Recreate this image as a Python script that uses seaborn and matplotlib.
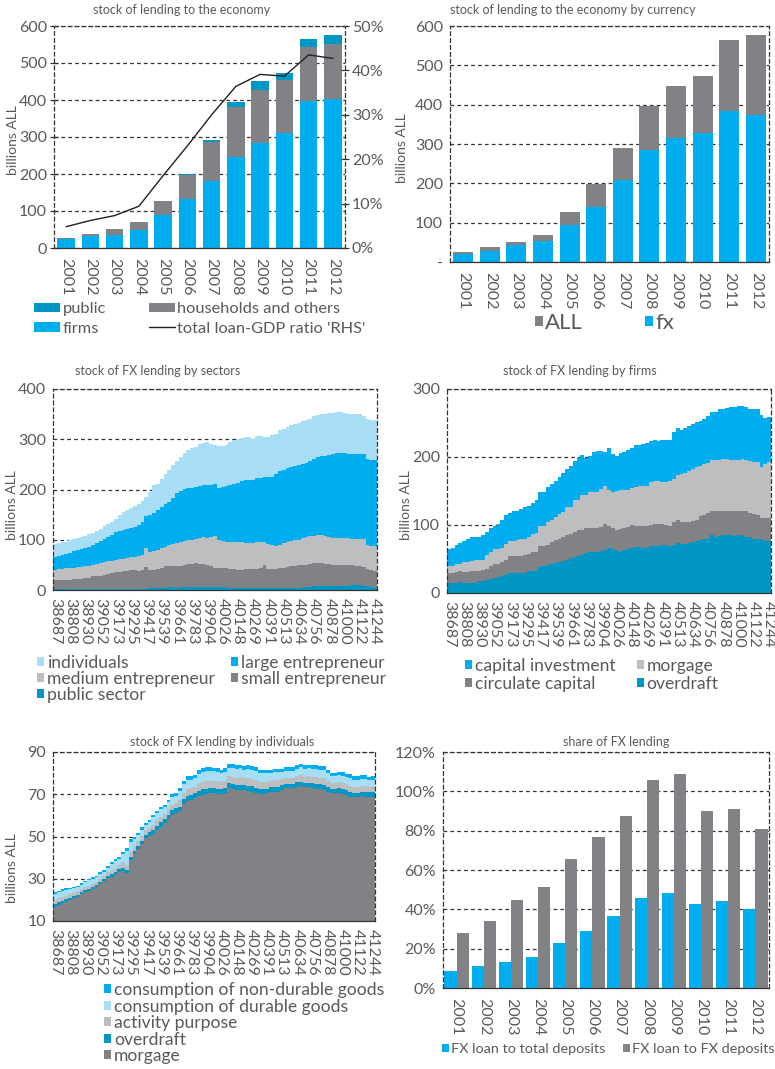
import numpy as np
import pandas as pd
import seaborn as sns
import matplotlib
matplotlib.use("Agg")
import matplotlib.pyplot as plt
from matplotlib.patches import Patch
from matplotlib.lines import Line2D

CYAN = "#00aeef"
GRAY = "#808285"
TEAL = "#0097c5"
LBLUE = "#a8ddf6"
LGRAY = "#bcbec0"
TXT = "#58595b"
DASH = "#333333"

years = [str(y) for y in range(2001, 2013)]

# stock of lending to the economy (billions ALL) and loan/GDP ratio (%)
firms = [24, 31.5, 36, 48, 88, 132, 182, 246, 284, 310, 396, 402]
households = [2, 6.5, 15, 21, 38, 66, 105, 135, 144, 145, 147, 148]
public = [2, 1, 1, 2, 2, 2, 6, 14, 22, 19, 23, 27]
loan_gdp = [4.8, 6.2, 7.3, 9.4, 16.3, 23.0, 30.0, 36.4, 39.1, 38.7, 43.5, 42.7]

# by currency
fx_loans = [21, 29, 42, 54, 95, 141, 209, 286, 314, 329, 383, 373]
all_loans = [5, 10, 10, 15, 33, 57, 82, 110, 134, 145, 182, 205]

# share of FX lending (%)
fx_to_total_dep = [8.8, 11.4, 13.4, 15.9, 23.0, 29.2, 36.8, 45.9, 48.5, 42.9, 44.4, 40.3]
fx_to_fx_dep = [28.1, 34.2, 44.9, 51.5, 65.8, 76.9, 87.6, 105.9, 109.0, 90.2, 91.2, 81.0]

month_labels = ["38687", "38808", "38930", "39052", "39173", "39295", "39417", "39539",
                "39661", "39783", "39904", "40026", "40148", "40269", "40391", "40513",
                "40634", "40756", "40878", "41000", "41122", "41244"]

# FX lending by sectors, monthly
sec_public = [1,1,1,1,1,1,1,1,1,1, 1,1,1,1,1,1,1,1,1,1, 1,1,1,2,2,3,3,3,4,4,
              5,5,4,5,5,5,6,6,6,6, 6,5,5,5,5,5,4,4,4,4, 4,4,4,4,4,4,4,4,3,3,
              3,3,3,4,4,5,6,6,7,7, 7,8,8,8,8,8,8,8,9,9, 9,8,7,5,4]
sec_small = [19,19,19,19,19,20,20,21,22,23, 26,26,27,28,31,32,34,35,36,37,
             39,38,37,38,43,37,37,38,40,43, 42,43,44,43,44,46,46,48,46,45,
             44,42,38,38,38,38,38,37,36,36, 37,37,38,38,39,45,38,37,38,40,
             40,42,44,44,45,45,44,45,46,47, 46,44,43,42,42,42,42,41,40,39,
             38,37,35,34,34]
sec_medium = [20,21,22,23,23,23,24,24,25,24, 23,24,25,26,25,25,25,25,25,26,
              25,27,30,30,38,36,38,39,39,39, 43,43,45,47,49,48,48,47,52,54,
              54,59,65,57,54,52,53,55,56,55, 52,52,52,53,53,47,49,48,47,47,
              50,50,50,51,51,53,56,56,55,55, 57,56,55,54,53,53,53,54,53,54,
              54,56,48,49,50]
sec_large = [26,27,28,29,31,33,35,35,35,38, 40,43,45,47,49,52,56,57,58,58,
             59,60,62,66,65,74,75,80,83,85, 86,93,100,103,103,104,103,104,103,103,
             105,102,103,103,108,111,113,115,117,122, 126,125,124,128,127,128,133,135,142,147,
             146,147,148,148,149,148,147,149,153,156, 156,159,163,166,169,170,170,168,168,168,
             170,170,170,170,170]
sec_indiv = [26,25,25,24,25,25,24,25,25,26, 24,24,24,26,26,26,26,32,36,38,
             40,42,42,42,38,46,55,50,54,59, 62,64,63,66,71,75,79,79,83,84,
             85,82,78,83,81,82,86,87,87,85, 85,86,82,84,83,81,81,84,80,81,
             82,83,83,83,83,85,85,85,85,84, 84,84,83,83,82,81,79,80,80,80,
             80,75,81,80,80]

# FX lending by firms, monthly
firm_overdraft = [15,15,15,16,15,14,14,14,17,18, 19,21,22,24,25,27,29,30,30,30,
                  30,32,33,33,38,40,41,43,44,45, 47,49,51,53,54,56,59,60,61,61,
                  62,63,66,64,62,61,63,65,66,68, 67,66,66,69,69,69,70,70,69,71,
                  73,72,72,74,75,76,78,79,80,85, 83,84,85,86,86,84,85,85,83,82,
                  80,80,80,76,76]
firm_circulate = [15,15,16,16,16,17,18,18,16,16, 16,19,20,18,20,22,25,24,24,24,
                  26,26,28,28,31,29,30,32,34,35, 36,37,36,36,38,37,37,36,35,35,
                  35,39,32,32,31,33,32,32,34,31, 31,32,32,31,32,32,32,30,30,33,
                  35,33,33,31,31,32,35,36,38,35, 38,37,36,34,34,36,36,36,37,36,
                  36,35,30,35,35]
firm_morgage = [10,10,11,11,14,15,15,16,15,15, 21,20,22,23,21,23,22,23,24,25,
                23,25,26,27,29,29,33,33,34,36, 36,40,39,48,45,51,48,52,53,53,
                56,56,54,53,57,57,56,55,54,57, 59,59,60,63,63,63,61,63,66,64,
                65,70,72,74,76,77,74,74,73,76, 74,75,76,77,76,76,75,76,76,76,
                76,77,75,79,81]
firm_capital = [25,26,28,30,32,33,35,35,35,36, 34,35,34,37,42,42,42,43,43,45,
                47,45,45,49,51,51,52,53,53,54, 57,57,61,57,62,59,54,54,58,60,
                56,49,61,56,52,55,57,59,59,62, 61,62,62,61,61,60,62,62,60,69,
                69,65,66,67,66,66,66,67,69,70, 71,74,74,75,77,78,79,78,77,77,
                79,79,77,68,67]

# FX lending by individuals, monthly
ind_morgage = [16.8,17.6,18.4,19.2,20.0,20.8,21.5,22.8,23.5,24.2,
               25.0,26.0,27.4,28.7,30.2,31.0,31.8,33.1,33.9,32.9,
               38.9,41.6,44.0,46.4,49.2,50.2,51.1,53.2,54.7,56.3,
               58.4,60.3,61.2,61.9,65.3,66.6,67.4,68.2,69.0,69.8,
               70.1,70.4,70.4,70.2,70.0,70.6,72.9,72.3,72.1,72.1,
               72.0,71.7,71.3,70.6,70.2,70.2,70.4,71.0,71.3,71.3,
               72.1,72.9,72.9,72.9,73.5,73.7,73.2,73.2,72.8,72.5,
               72.5,72.0,71.3,70.6,70.6,70.6,70.2,69.8,68.5,68.5,
               68.5,69.0,68.7,68.7,68.5]
ind_overdraft = [1.2,1.2,1.2,1.1,1.1,1.0,1.0,1.0,1.0,1.0, 1.0,1.0,1.1,1.1,1.2,1.3,1.3,1.3,1.4,1.4,
                 1.6,1.6,1.6,1.7,1.7,1.8,1.9,1.9,2.0,1.9, 2.0,2.1,2.1,2.3,2.3,2.4,2.3,2.3,2.5,2.5,
                 2.6,2.5,2.5,2.5,2.4,2.4,2.4,2.4,2.4,2.4, 2.3,2.4,2.4,2.4,2.3,2.3,2.3,2.2,2.2,2.2,
                 2.1,2.1,2.1,2.1,2.1,2.2,2.2,2.2,2.3,2.3, 2.2,2.3,2.2,2.1,2.1,2.2,2.2,2.2,2.4,2.3,
                 2.3,2.3,2.4,2.3,2.4]
ind_activity = [2.0,1.9,1.8,1.7,1.6,1.5,1.5,1.4,1.5,1.6, 1.5,1.5,1.5,1.5,1.6,2.0,2.1,2.0,2.4,2.2,
                2.8,2.3,2.1,2.2,2.0,2.1,2.6,2.5,2.7,2.4, 2.5,2.7,2.6,3.1,3.2,3.4,3.2,3.1,3.6,3.6,
                3.7,3.6,3.5,3.5,3.4,3.4,3.3,3.5,3.4,3.5, 3.3,3.5,3.5,3.6,3.3,3.3,3.2,3.1,3.1,3.1,
                2.9,2.8,2.8,2.8,2.9,3.0,3.0,3.1,3.1,3.2, 3.1,3.2,2.9,2.7,2.7,2.8,2.9,2.8,3.1,2.8,
                2.8,2.7,2.8,2.6,2.7]
ind_durable = [3.0,2.9,2.8,2.6,2.4,2.2,2.1,2.0,2.3,2.4, 2.3,2.2,2.2,2.1,2.3,2.8,3.0,2.8,3.8,6.8,
               4.2,3.2,2.9,3.0,2.7,2.8,3.5,3.4,3.5,3.2, 3.3,3.6,3.4,4.1,4.1,4.4,4.0,4.0,4.6,4.6,
               4.7,4.6,4.4,4.4,4.1,4.2,4.0,4.3,4.1,4.2, 3.9,4.3,4.2,4.3,4.1,4.1,4.0,3.7,3.9,3.9,
               3.5,3.4,3.4,3.4,3.6,3.8,3.7,3.8,3.8,4.0, 3.7,4.0,3.6,3.1,3.1,3.3,3.5,3.2,3.8,3.3,
               3.3,3.3,3.3,3.1,3.3]
ind_nondurable = [0.9,0.8,0.8,0.8,0.7,0.7,0.7,0.6,0.7,0.8, 0.8,0.8,0.8,0.8,0.9,1.0,1.0,1.0,1.1,1.2,
                  1.2,1.1,1.0,1.0,0.9,1.0,1.2,1.2,1.3,1.2, 1.2,1.3,1.3,1.5,1.6,1.7,1.6,1.6,1.8,1.9,
                  1.9,1.9,1.8,1.8,1.7,1.8,1.7,1.8,1.7,1.8, 1.7,1.8,1.8,1.8,1.7,1.7,1.7,1.6,1.6,1.6,
                  1.5,1.5,1.5,1.5,1.6,1.6,1.6,1.7,1.7,1.7, 1.7,1.7,1.6,1.5,1.5,1.6,1.7,1.6,1.8,1.6,
                  1.6,1.6,1.7,1.6,1.9]

sns.set_style("white")
plt.rcParams["font.family"] = ["Lato", "DejaVu Sans"]
plt.rcParams["text.color"] = TXT
plt.rcParams["xtick.color"] = DASH
plt.rcParams["ytick.color"] = DASH
plt.rcParams["xtick.labelcolor"] = TXT
plt.rcParams["ytick.labelcolor"] = TXT

W, H = 775, 1069
fig = plt.figure(figsize=(W / 100, H / 100), dpi=100)


def rect(left, top, right, bottom):
    return [left / W, 1 - bottom / H, (right - left) / W, (bottom - top) / H]


def ftext(x, y, s, **kw):
    fig.text(x / W, 1 - y / H, s, **kw)


def frame(ax, sides=("left", "top", "right")):
    for side in sides:
        ax.spines[side].set_linestyle((0, (3, 2.5)))
        ax.spines[side].set_color(DASH)
        ax.spines[side].set_linewidth(0.9)
    ax.spines["bottom"].set_color(DASH)
    ax.spines["bottom"].set_linewidth(0.9)
    ax.yaxis.grid(True, linestyle=(0, (3, 2.5)), color=DASH, linewidth=0.9)
    ax.xaxis.grid(False)
    ax.set_axisbelow(True)
    ax.tick_params(axis="y", direction="inout", length=6, width=0.9, labelsize=11.5, pad=2)
    ax.set_xlabel("")
    ax.set_ylabel("")


def stacked(ax, layers, colors, width):
    # overlay cumulative totals, top layer first
    x = np.arange(len(layers[0]))
    cum = np.cumsum(np.array(layers, dtype=float), axis=0)
    monthly = width >= 1
    for top, c in zip(cum[::-1], colors[::-1]):
        sns.barplot(x=x, y=top, color=c, saturation=1, width=width, errorbar=None,
                    linewidth=0, antialiased=not monthly, ax=ax)


def year_axis(ax):
    ax.set_xlim(-0.5, 11.5)
    ax.set_xticks(range(12))
    ax.set_xticklabels(years, rotation=270, fontsize=11.5)
    ax.set_xticks(np.arange(-0.5, 12, 1), minor=True)
    ax.tick_params(axis="x", which="major", length=0, pad=7)
    ax.tick_params(axis="x", which="minor", length=5, width=0.9, direction="inout")


def month_axis(ax, bottom, top, step):
    ax.set_xlim(-0.5, 84.5)
    ax.set_ylim(bottom, top)
    ax.set_yticks(np.arange(bottom, top + 1, step))
    ax.set_xticks(range(0, 85, 4))
    ax.set_xticklabels(month_labels, rotation=270, fontsize=11.5)
    ax.set_xticks(range(85), minor=True)
    ax.tick_params(axis="x", which="both", length=5, width=0.8, direction="inout", pad=3)


def legend(handles, labels, x, y, ncol, fontsize, **kw):
    opts = dict(loc="upper left", bbox_to_anchor=(x / W, 1 - y / H), ncol=ncol,
                frameon=False, fontsize=fontsize, borderpad=0, borderaxespad=0,
                handletextpad=0.15, labelspacing=0.05, labelcolor=TXT)
    opts.update(kw)
    fig.legend(handles, labels, **opts)


def sq(c):
    return Patch(facecolor=c, edgecolor="none")


# ---- panel 1: stock of lending to the economy
ax1 = fig.add_axes(rect(54, 26, 345, 248))
stacked(ax1, [firms, households, public], [CYAN, GRAY, TEAL], 0.72)
frame(ax1)
ax1.set_ylim(0, 600)
ax1.set_yticks(range(0, 601, 100))
year_axis(ax1)
ax1b = ax1.twinx()
ax1b.plot(range(12), loan_gdp, color="#231f20", linewidth=1)
ax1b.set_ylim(0, 50)
ax1b.set_yticks(range(0, 51, 10))
ax1b.set_yticklabels([f"{v}%" for v in range(0, 51, 10)])
ax1b.tick_params(axis="y", direction="inout", length=6, width=0.9, labelsize=11.5, pad=2)
for s in ax1b.spines.values():
    s.set_visible(False)
ax1b.set_xlim(-0.5, 11.5)
ftext(182, 10, "stock of lending to the economy", fontsize=9, ha="center", va="center")
ftext(13, 140, "billions ALL", fontsize=10, rotation=90, ha="center", va="center")
legend([sq(TEAL), sq(CYAN), sq(GRAY), Line2D([], [], color="#231f20", lw=1)],
       ["public", "firms", "households and others", "total loan-GDP ratio 'RHS'"],
       34, 302, 2, 11.8, handlelength=1.6, handleheight=0.5, columnspacing=2.6,
       labelspacing=0.35)

# ---- panel 2: by currency
ax2 = fig.add_axes(rect(450, 26, 769, 262))
stacked(ax2, [fx_loans, all_loans], [CYAN, GRAY], 0.75)
frame(ax2)
ax2.set_ylim(0, 600)
ax2.set_yticks(range(0, 601, 100))
ax2.set_yticklabels(["-", "100", "200", "300", "400", "500", "600"])
year_axis(ax2)
ftext(573, 10, "stock of lending to the economy by currency", fontsize=9, ha="center", va="center")
ftext(402, 148, "billions ALL", fontsize=10, rotation=90, ha="center", va="center")
legend([sq(GRAY), sq(CYAN)], ["ALL", "fx"], 535, 313, 2, 16,
       handlelength=0.35, handleheight=0.35, handletextpad=0.1, columnspacing=2.8)

# ---- panel 3: FX lending by sectors
ax3 = fig.add_axes(rect(53, 389, 377, 590))
stacked(ax3, [sec_public, sec_small, sec_medium, sec_large, sec_indiv],
        [TEAL, GRAY, LGRAY, CYAN, LBLUE], 1.0)
frame(ax3)
month_axis(ax3, 0, 400, 100)
ftext(158, 371, "stock of FX lending by sectors", fontsize=9, ha="center", va="center")
ftext(12, 505, "billions ALL", fontsize=10, rotation=90, ha="center", va="center")
legend([sq(LBLUE), sq(LGRAY), sq(TEAL), sq(CYAN), sq(GRAY)],
       ["individuals", "medium entrepreneur", "public sector", "large entrepreneur", "small entrepreneur"],
       37, 655, 2, 12.6, handlelength=0.42, handleheight=0.42, columnspacing=0.9,
       labelspacing=0.0)

# ---- panel 4: FX lending by firms
ax4 = fig.add_axes(rect(447, 389, 771, 593))
stacked(ax4, [firm_overdraft, firm_circulate, firm_morgage, firm_capital],
        [TEAL, GRAY, LGRAY, CYAN], 1.0)
frame(ax4)
month_axis(ax4, 0, 300, 100)
ftext(580, 371, "stock of FX lending by firms", fontsize=9, ha="center", va="center")
ftext(406, 505, "billions ALL", fontsize=10, rotation=90, ha="center", va="center")
legend([sq(CYAN), sq(GRAY), sq(LGRAY), sq(TEAL)],
       ["capital investment", "circulate capital", "morgage", "overdraft"],
       465, 658, 2, 12.6, handlelength=0.42, handleheight=0.42, columnspacing=1.2,
       labelspacing=0.12)

# ---- panel 5: FX lending by individuals
ax5 = fig.add_axes(rect(53, 752, 375, 921))
stacked(ax5, [ind_morgage, ind_overdraft, ind_activity, ind_durable, ind_nondurable],
        [GRAY, TEAL, LGRAY, LBLUE, CYAN], 1.0)
frame(ax5)
month_axis(ax5, 10, 90, 20)
ftext(222, 742, "stock of FX lending by individuals", fontsize=9, ha="center", va="center")
ftext(12, 868, "billions ALL", fontsize=10, rotation=90, ha="center", va="center")
legend([sq(CYAN), sq(LBLUE), sq(LGRAY), sq(TEAL), sq(GRAY)],
       ["consumption of non-durable goods", "consumption of durable goods",
        "activity purpose", "overdraft", "morgage"],
       104, 982, 1, 12.6, handlelength=0.42, handleheight=0.42, labelspacing=0.03)

# ---- panel 6: share of FX lending
ax6 = fig.add_axes(rect(443, 752, 769, 988))
share = pd.DataFrame({
    "year": years * 2,
    "value": fx_to_total_dep + fx_to_fx_dep,
    "series": ["FX loan to total deposits"] * 12 + ["FX loan to FX deposits"] * 12,
})
sns.barplot(data=share, x="year", y="value", hue="series", palette=[CYAN, GRAY],
            saturation=1, width=0.9, gap=0, errorbar=None, linewidth=0, legend=False, ax=ax6)
frame(ax6)
ax6.set_ylim(0, 120)
ax6.set_yticks(range(0, 121, 20))
ax6.set_yticklabels([f"{v}%" for v in range(0, 121, 20)])
year_axis(ax6)
ftext(616, 742, "share of FX lending", fontsize=9, ha="center", va="center")
legend([sq(CYAN), sq(GRAY)], ["FX loan to total deposits", "FX loan to FX deposits"],
       442, 1043, 2, 10.4, handlelength=0.5, handleheight=0.5, columnspacing=1.2)

fig.savefig("out.png", dpi=100)
